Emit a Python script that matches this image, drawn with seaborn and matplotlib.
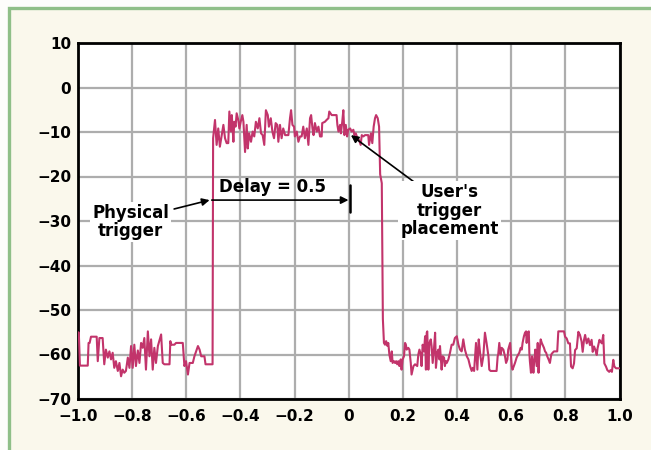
import matplotlib
matplotlib.use("Agg")
import matplotlib.pyplot as plt
import seaborn as sns
import pandas as pd
from matplotlib.patches import Rectangle

# ---------------- data ----------------
base_left_x = [-1.000, -0.997, -0.993, -0.964, -0.961, -0.957, -0.952, -0.931, -0.927, -0.921,
               -0.909, -0.903, -0.897, -0.890, -0.884, -0.878, -0.872, -0.866, -0.860, -0.853,
               -0.847, -0.841, -0.835, -0.829, -0.823, -0.816, -0.810, -0.804, -0.798, -0.792,
               -0.786, -0.779, -0.773, -0.767, -0.761, -0.755, -0.749, -0.742, -0.736, -0.730,
               -0.724, -0.718, -0.712, -0.705, -0.693, -0.687, -0.681, -0.662, -0.659, -0.656,
               -0.644, -0.638, -0.613, -0.607, -0.601, -0.594, -0.588, -0.576, -0.570, -0.557,
               -0.551, -0.545, -0.533, -0.529, -0.517, -0.503]
base_left_y = [-55.0, -55.1, -62.5, -62.5, -57.4, -57.4, -56.0, -56.0, -61.5, -56.3,
               -56.3, -62.2, -58.9, -60.7, -59.3, -61.1, -59.6, -63.0, -61.5, -63.7,
               -61.9, -64.9, -63.4, -64.1, -63.7, -60.7, -63.0, -58.1, -63.0, -57.8,
               -62.6, -59.1, -61.9, -57.4, -58.5, -56.3, -63.4, -54.8, -60.4, -56.6,
               -63.4, -58.5, -61.9, -58.1, -55.5, -61.9, -62.2, -62.2, -57.0, -57.8,
               -57.8, -57.4, -57.4, -62.6, -61.5, -64.5, -61.9, -61.9, -60.4, -58.1,
               -58.9, -60.4, -60.4, -62.2, -62.2, -62.2]

pulse_a_x = [-0.501, -0.494, -0.488, -0.482, -0.476, -0.469, -0.463, -0.457, -0.451, -0.445,
             -0.441, -0.435, -0.432, -0.426, -0.423, -0.418, -0.414, -0.408, -0.404, -0.399,
             -0.393, -0.389, -0.383, -0.377, -0.373, -0.368, -0.361, -0.355, -0.349, -0.343,
             -0.336, -0.330, -0.324, -0.318, -0.312, -0.306, -0.299, -0.295, -0.288, -0.282,
             -0.276, -0.270, -0.264, -0.260, -0.254, -0.248, -0.242, -0.235, -0.223, -0.217,
             -0.213, -0.208, -0.202, -0.199, -0.192, -0.186, -0.180]
pulse_a_y = [-11.4, -7.3, -12.9, -9.2, -13.3, -10.7, -8.4, -11.4, -12.5, -12.5,
             -5.4, -9.9, -6.2, -12.2, -7.7, -8.8, -5.8, -7.3, -9.2, -7.7,
             -6.2, -7.7, -14.5, -8.4, -13.7, -10.3, -12.2, -9.9, -11.0, -7.7,
             -9.2, -6.9, -10.3, -10.7, -12.9, -5.1, -6.2, -8.8, -6.9, -9.9,
             -11.4, -8.0, -8.4, -12.2, -8.4, -11.4, -9.2, -10.7, -10.7, -6.9,
             -5.1, -8.4, -8.8, -11.0, -9.9, -12.2, -11.0]

pulse_b_x = [-0.174, -0.168, -0.162, -0.155, -0.149, -0.143, -0.139, -0.134, -0.130, -0.125,
             -0.118, -0.112, -0.106, -0.100, -0.098, -0.088, -0.082, -0.075, -0.072, -0.063,
             -0.045, -0.042, -0.038, -0.032, -0.029, -0.024, -0.020, -0.016, -0.011, -0.006,
             -0.002, 0.005, 0.011, 0.017, 0.021, 0.026, 0.032, 0.038, 0.044, 0.048,
             0.054, 0.060, 0.072, 0.075, 0.082, 0.087, 0.092, 0.097, 0.101, 0.107,
             0.112]
pulse_b_y = [-11.0, -8.8, -11.4, -9.2, -12.9, -6.9, -6.2, -9.2, -10.7, -8.0,
             -9.9, -8.8, -11.0, -11.0, -8.0, -7.7, -7.3, -6.9, -5.4, -6.2,
             -6.2, -8.4, -9.9, -8.4, -10.3, -7.7, -5.1, -10.7, -8.4, -11.0,
             -9.5, -9.2, -9.9, -9.5, -10.7, -10.3, -11.4, -11.8, -12.9, -10.7,
             -11.0, -10.7, -10.7, -12.9, -10.3, -12.5, -8.8, -6.9, -6.2, -6.9,
             -8.8]

fall_x = [0.116, 0.122, 0.126]
fall_y = [-19.5, -21.5, -52.0]

base_right_a_x = [0.130, 0.134, 0.138, 0.143, 0.146, 0.150, 0.155, 0.159, 0.162, 0.167,
                  0.171, 0.175, 0.179, 0.183, 0.187, 0.192, 0.195, 0.199, 0.204, 0.208,
                  0.211, 0.214, 0.220, 0.224, 0.229, 0.232, 0.239, 0.245, 0.253, 0.257,
                  0.261, 0.266, 0.269, 0.273, 0.278, 0.282, 0.285, 0.288, 0.290, 0.294,
                  0.298, 0.303, 0.306, 0.310, 0.315, 0.319, 0.322, 0.327, 0.331, 0.335,
                  0.337, 0.343, 0.347, 0.352, 0.355, 0.359, 0.362, 0.368, 0.374, 0.380,
                  0.386, 0.392, 0.399, 0.405, 0.411, 0.417, 0.423, 0.429, 0.436, 0.442,
                  0.448, 0.454, 0.458, 0.463]
base_right_a_y = [-57.4, -57.8, -57.0, -58.1, -57.4, -60.0, -61.5, -59.3, -61.9, -61.5,
                  -61.9, -61.5, -62.2, -61.5, -62.6, -61.1, -63.4, -61.1, -60.4, -57.4,
                  -57.8, -58.9, -58.5, -58.9, -61.9, -64.5, -62.6, -62.2, -62.6, -60.0,
                  -58.9, -60.0, -62.6, -57.8, -59.3, -55.9, -63.4, -55.1, -54.8, -63.4,
                  -57.4, -56.6, -58.1, -61.9, -58.5, -55.1, -63.0, -59.6, -58.9, -61.1,
                  -58.1, -63.4, -60.4, -60.7, -62.6, -61.5, -61.9, -61.1, -59.6, -57.8,
                  -57.8, -56.3, -55.9, -57.8, -58.9, -59.3, -56.6, -58.9, -60.4, -61.1,
                  -62.6, -63.7, -63.0, -63.7]

base_right_b_x = [0.470, 0.475, 0.480, 0.485, 0.491, 0.497, 0.503, 0.509, 0.516, 0.519,
                  0.524, 0.546, 0.550, 0.552, 0.556, 0.561, 0.565, 0.571, 0.577, 0.581,
                  0.586, 0.589, 0.596, 0.602, 0.605, 0.610, 0.614, 0.620, 0.626, 0.630,
                  0.635, 0.639, 0.642, 0.647, 0.651, 0.655, 0.657, 0.661, 0.665, 0.667,
                  0.669, 0.673, 0.677, 0.682, 0.685, 0.689, 0.694, 0.698, 0.701, 0.705,
                  0.709, 0.713, 0.716, 0.721, 0.725, 0.729, 0.733, 0.738, 0.743, 0.748,
                  0.753, 0.758, 0.770, 0.774, 0.795]
base_right_b_y = [-57.4, -63.4, -56.6, -59.6, -62.6, -60.4, -55.1, -57.4, -60.4, -63.4,
                  -63.7, -63.7, -60.4, -60.0, -57.4, -60.0, -58.5, -58.9, -60.4, -61.9,
                  -61.1, -58.9, -57.4, -62.6, -63.4, -62.6, -61.9, -60.7, -60.0, -59.6,
                  -58.5, -58.9, -57.4, -55.9, -55.1, -54.8, -57.4, -55.1, -54.8, -59.6,
                  -61.5, -64.1, -60.4, -64.1, -61.5, -58.9, -62.6, -57.4, -64.1, -58.9,
                  -56.6, -57.4, -57.8, -58.5, -59.3, -59.6, -60.4, -61.1, -61.9, -60.0,
                  -59.6, -59.3, -59.3, -54.8, -54.8]

base_right_c_x = [0.799, 0.805, 0.811, 0.817, 0.821, 0.827, 0.832, 0.836, 0.842, 0.848,
                  0.854, 0.860, 0.864, 0.869, 0.873, 0.879, 0.885, 0.891, 0.897, 0.901,
                  0.906, 0.911, 0.916, 0.919, 0.926, 0.930, 0.935, 0.940, 0.944, 0.950,
                  0.955, 0.962, 0.967, 0.972, 0.977, 0.981, 0.987, 0.992, 0.999]
base_right_c_y = [-56.0, -56.4, -57.5, -57.5, -62.7, -63.1, -62.0, -59.0, -58.6, -54.9,
                  -55.6, -57.1, -59.4, -56.7, -55.6, -57.5, -56.4, -57.9, -56.7, -59.4,
                  -58.2, -59.0, -60.1, -58.6, -56.7, -57.1, -57.5, -55.6, -62.0, -62.7,
                  -63.5, -63.9, -63.5, -63.9, -61.2, -62.7, -63.1, -63.1, -63.1]

x_ticks = [-1.0, -0.8, -0.6, -0.4, -0.2, 0.0, 0.2, 0.4, 0.6, 0.8, 1.0]
x_tick_labels = ["\u22121.0", "\u22120.8", "\u22120.6", "\u22120.4", "\u22120.2", "0",
                 "0.2", "0.4", "0.6", "0.8", "1.0"]
y_ticks = [10, 0, -10, -20, -30, -40, -50, -60, -70]
y_tick_labels = ["10", "0", "\u221210", "\u221220", "\u221230", "\u221240", "\u221250",
                 "\u221260", "\u221270"]

delay_label = "Delay = 0.5"
physical_label = "Physical\ntrigger"
user_label = "User's\ntrigger\nplacement"

# ---------------- assemble ----------------
xs = (base_left_x + pulse_a_x + pulse_b_x + fall_x +
      base_right_a_x + base_right_b_x + base_right_c_x)
ys = (base_left_y + pulse_a_y + pulse_b_y + fall_y +
      base_right_a_y + base_right_b_y + base_right_c_y)
df = pd.DataFrame({"time": xs, "level": ys})

sns.set_style("white")
plt.rcParams["font.family"] = ["DejaVu Sans"]
plt.rcParams["font.weight"] = "bold"
plt.rcParams["text.color"] = "black"

BG = "#faf8ec"
GREEN = "#8fbf88"
LINE = "#c2346b"
GRID = "#adadad"

fig = plt.figure(figsize=(6.51, 4.5), dpi=100, facecolor="#fdfdfb")
# cream panel with green border (behind everything)
panel = Rectangle((9 / 651, -0.2), 1.2, 1.2 - 8 / 450,
                  transform=fig.transFigure, facecolor=BG,
                  edgecolor=GREEN, linewidth=2.4, zorder=-10)
fig.patches.append(panel)

ax = fig.add_axes([78 / 651, 1 - 399 / 450, (619.5 - 78) / 651, (399 - 43) / 450])
ax.set_zorder(5)
ax.set_facecolor("white")

sns.lineplot(data=df, x="time", y="level", ax=ax, sort=False, estimator=None,
             color=LINE, linewidth=1.5, zorder=3)

ax.set_xlim(-1.0, 1.0)
ax.set_ylim(-70, 10)
ax.set_xticks(x_ticks)
ax.set_xticklabels(x_tick_labels)
ax.set_yticks(y_ticks)
ax.set_yticklabels(y_tick_labels)
ax.set_xlabel("")
ax.set_ylabel("")
ax.tick_params(axis="both", length=0, labelsize=11, colors="black")
ax.tick_params(axis="x", pad=7)
ax.tick_params(axis="y", pad=5)
for lab in ax.get_xticklabels() + ax.get_yticklabels():
    lab.set_fontweight("bold")

ax.grid(True, color=GRID, linewidth=1.6, zorder=1)
ax.set_axisbelow(True)
for s in ax.spines.values():
    s.set_visible(True)
    s.set_color("black")
    s.set_linewidth(2.0)

# annotations
ax.annotate("", xy=(-0.001, -25.3), xytext=(-0.506, -25.3),
            arrowprops=dict(arrowstyle="-|>", color="black", lw=1.2,
                            mutation_scale=11, shrinkA=0, shrinkB=0), zorder=5)
ax.plot([0.006, 0.006], [-22.0, -28.0], color="black", lw=1.8, zorder=5)
ax.text(-0.28, -22.3, delay_label, ha="center", va="center", fontsize=12,
        fontweight="bold", color="black", zorder=6)

ax.text(-0.805, -30.2, physical_label, ha="center", va="center", fontsize=12,
        fontweight="bold", color="black", linespacing=1.05, zorder=6,
        bbox=dict(facecolor="white", edgecolor="none", pad=1.5))
ax.annotate("", xy=(-0.514, -25.3), xytext=(-0.645, -27.3),
            arrowprops=dict(arrowstyle="-|>", color="black", lw=1.2,
                            mutation_scale=11, shrinkA=0, shrinkB=0), zorder=5)

ax.text(0.372, -27.7, user_label, ha="center", va="center", fontsize=12,
        fontweight="bold", color="black", linespacing=1.05, zorder=6,
        bbox=dict(facecolor="white", edgecolor="none", pad=1.5))
ax.annotate("", xy=(0.008, -10.7), xytext=(0.245, -21.4),
            arrowprops=dict(arrowstyle="-|>", color="black", lw=1.2,
                            mutation_scale=11, shrinkA=0, shrinkB=0), zorder=5)

fig.savefig("out.png", dpi=100, facecolor=fig.get_facecolor())
